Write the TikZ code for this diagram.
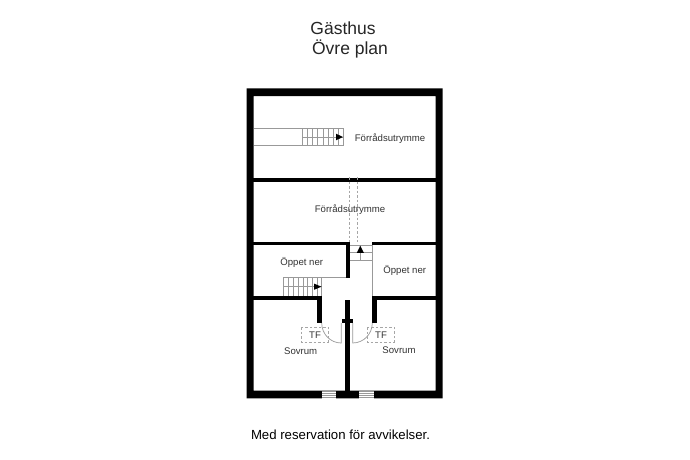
\documentclass[tikz,border=0pt]{standalone}
\usepackage{fontspec}
\setmainfont{Liberation Sans}
\begin{document}
\begin{tikzpicture}[x = 1pt, y = -1pt,
    wall/.style = {fill = black, draw = none},
    thin line/.style = {draw = black!40, line width = 0.7pt},
    dash line/.style = {draw = black!35, line width = 0.7pt, dash pattern = on 2.5pt off 2pt},
    head/.style = {fill = black, draw = none},
    room/.style = {font = \fontsize{9.6}{11}\selectfont, text = black!80, inner sep = 0pt, yshift = -0.8pt},
    title/.style = {font = \fontsize{17.5}{19}\selectfont, text = black!85, inner sep = 0pt}]
      \useasboundingbox (0, 0) rectangle (690, 460);
      \fill[white] (0, 0) rectangle (690, 460);
      \path[wall, even odd rule] (246.7, 88.3) rectangle (442.7, 398.3)
                                 (253.7, 96) rectangle (435.7, 390.7);
      \path[wall] (253, 178.3) rectangle (436, 181.5);
      \path[wall] (253, 241.7) rectangle (350, 245.3);
      \path[wall] (372.3, 241.7) rectangle (436, 245.3);
      \path[wall] (346, 241.7) rectangle (350, 278);
      \path[wall] (253, 295.7) rectangle (321.7, 300);
      \path[wall] (317.3, 295.7) rectangle (321.7, 322.7);
      \path[wall] (372.3, 295.7) rectangle (436, 300);
      \path[wall] (372.3, 295.7) rectangle (376.7, 322.7);
      \path[wall] (344.7, 300) rectangle (350.3, 391);
      \path[wall] (342, 318.7) rectangle (352.7, 323.3);

      \foreach \xleft in {321.7, 359.3} {
        \path[fill = white, draw = none] (\xleft, 390.5) rectangle +(14.5, 8);
        \foreach \yline in {391.5, 393.5, 395.5, 397.5}
          \draw[thin line, line width = 0.5pt] (\xleft, \yline) -- +(14.5, 0);
      }

      \draw[thin line] (253.7, 128.3) -- (343.7, 128.3) -- (343.7, 145.7) -- (253.7, 145.7);
      \draw[thin line] (302.3, 137) -- (343.7, 137);
      \foreach \xstep in {0, ..., 7}
        \draw[thin line] (302.3 + 5.17 * \xstep, 128.3) -- (302.3 + 5.17 * \xstep, 145.7);
      \path[head] (336, 133.7) -- (343, 137) -- (336, 140.3) -- cycle;

      \draw[dash line] (349, 177) -- (349, 242);
      \draw[dash line] (357, 177) -- (357, 242);

      \draw[thin line] (350, 245.3) -- (371.7, 245.3);
      \draw[thin line] (350, 252.3) -- (371.7, 252.3);
      \draw[thin line] (350, 260.5) -- (372, 260.5);
      \draw[thin line] (360.3, 252.3) -- (360.3, 260.5);
      \path[head] (356.8, 252.8) -- (360.3, 245.6) -- (363.8, 252.8) -- cycle;
      \draw[thin line] (372.3, 245) -- (372.3, 296);

      \draw[thin line] (283.7, 296) -- (283.7, 277.3) -- (346, 277.3);
      \draw[thin line] (283.7, 286.7) -- (321.7, 286.7);
      \draw[thin line] (321.7, 277.3) -- (321.7, 296);
      \foreach \xstep in {1, ..., 7}
        \draw[thin line] (283.7 + 4.8 * \xstep, 277.3) -- (283.7 + 4.8 * \xstep, 296);
      \path[head] (314, 283.6) -- (321.5, 286.7) -- (314, 289.8) -- cycle;

      \draw[thin line] (321.7, 323) arc[start angle = 180, end angle = 270, x radius = 19.5, y radius = -20] -- (341.2, 323);
      \draw[thin line] (372.3, 323) arc[start angle = 0, end angle = -90, x radius = 19.6, y radius = -20] -- (352.7, 323);

      \draw[dash line] (301.3, 327.3) rectangle (328, 342);
      \draw[dash line] (367.3, 327.3) rectangle (394, 342);

      \node[title] (titleA) at (343, 28) {Gästhus};
      \node[title] (titleB) at (350, 49) {Övre plan};
      \node[room] (forrad1) at (390, 138) {Förrådsutrymme};
      \node[room] (forrad2) at (350, 209) {Förrådsutrymme};
      \node[room] (oppet1) at (301.7, 261.3) {Öppet ner};
      \node[room] (oppet2) at (404.7, 270) {Öppet ner};
      \node[room] (tf1) at (315, 334.5) {TF};
      \node[room] (tf2) at (381, 334.5) {TF};
      \node[room] (sovrum1) at (300.7, 350.5) {Sovrum};
      \node[room] (sovrum2) at (399, 349) {Sovrum};
      \node[inner sep = 0pt, font = \fontsize{13.2}{15}\selectfont] (note) at (340.5, 434.5) {Med reservation för avvikelser.};
    \end{tikzpicture}
\end{document}
